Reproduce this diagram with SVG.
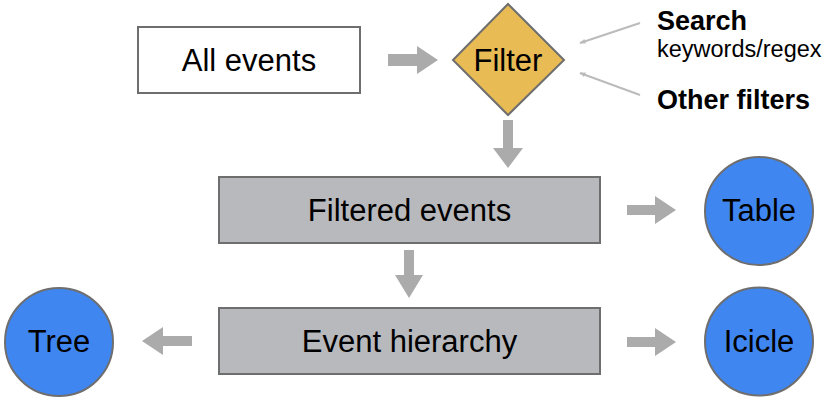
<svg xmlns="http://www.w3.org/2000/svg" width="831" height="408" viewBox="0 0 831 408">
<style>
  .lbl { font-family: "Liberation Sans", Arial, sans-serif; font-size: 31px; fill: #000; text-anchor: middle; }
  .side { font-family: "Liberation Sans", Arial, sans-serif; fill: #000; }
  .bold { font-weight: bold; font-size: 27px; }
  .small { font-size: 23.5px; }
  .box { stroke: #6e6e6e; stroke-width: 2; }
  .circ { fill: #4086F0; stroke: #6e6e6e; stroke-width: 2; }
  .blk { fill: #ABABAB; }
  .thin { stroke: #BBBBBB; stroke-width: 2; fill: none; }
</style>
<defs>
  <marker id="ah" viewBox="0 0 10 10" refX="9" refY="5" markerWidth="6" markerHeight="6" orient="auto" markerUnits="userSpaceOnUse">
    <path d="M0,1 L10,5 L0,9 Z" fill="#BBBBBB"/>
  </marker>
</defs>
<rect width="831" height="408" fill="#fff"/>
<g id="connectors">
  <polygon class="blk" points="388,54 417,54 417,46 438,60 417,74 417,66 388,66"/>
  <polygon class="blk" points="503,120 513,120 513,148 523,148 508,168 493,148 503,148"/>
  <polygon class="blk" points="627,205 655,205 655,196 676,210 655,224 655,215 627,215"/>
  <polygon class="blk" points="404,250 414,250 414,275 423,275 409,298 395,275 404,275"/>
  <polygon class="blk" points="192,336 163,336 163,327 142,341 163,355 163,346 192,346"/>
  <polygon class="blk" points="627,337 655,337 655,328 676,342 655,356 655,347 627,347"/>
  <line class="thin" x1="640" y1="23" x2="580" y2="43" marker-end="url(#ah)"/>
  <line class="thin" x1="640" y1="95" x2="580" y2="73" marker-end="url(#ah)"/>
</g>
<g id="all-events">
  <rect class="box" x="138" y="27" width="222" height="66" fill="#fff"/>
  <text class="lbl" x="249" y="71">All events</text>
</g>
<g id="filter">
  <polygon class="box" points="508,4 564,60 508,115 453,60" fill="#E8BB55"/>
  <text class="lbl" x="508" y="71">Filter</text>
</g>
<g id="search">
  <text class="side bold" x="657" y="30">Search</text>
  <text class="side small" x="657" y="57">keywords/regex</text>
</g>
<g id="other-filters">
  <text class="side bold" x="657" y="109">Other filters</text>
</g>
<g id="filtered-events">
  <rect class="box" x="219" y="177" width="381" height="66" fill="#B8B9BC"/>
  <text class="lbl" x="409.5" y="221">Filtered events</text>
</g>
<g id="event-hierarchy">
  <rect class="box" x="219" y="308" width="381" height="66" fill="#B8B9BC"/>
  <text class="lbl" x="409.5" y="352">Event hierarchy</text>
</g>
<g id="table">
  <circle class="circ" cx="759" cy="211" r="54"/>
  <text class="lbl" x="759" y="221">Table</text>
</g>
<g id="icicle">
  <circle class="circ" cx="759" cy="341.5" r="54"/>
  <text class="lbl" x="759" y="352">Icicle</text>
</g>
<g id="tree">
  <circle class="circ" cx="59" cy="342" r="54"/>
  <text class="lbl" x="59" y="352">Tree</text>
</g>
</svg>
